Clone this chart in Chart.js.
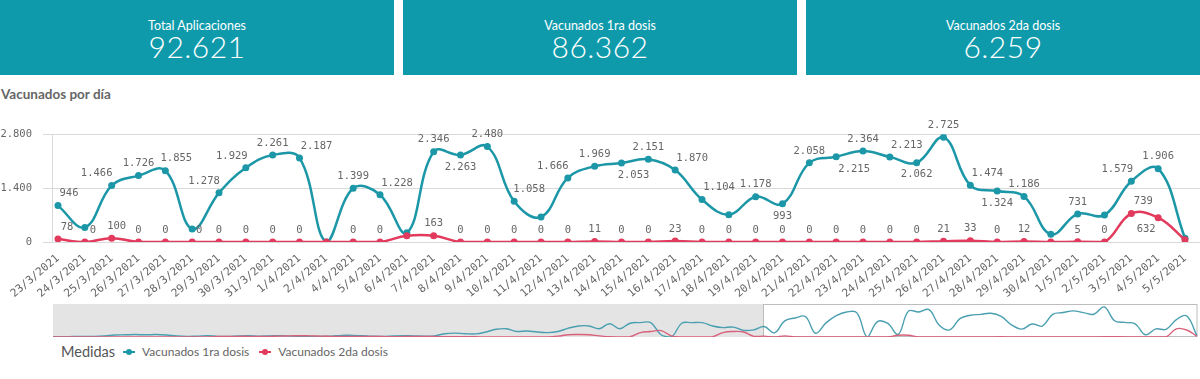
<!DOCTYPE html>
<html>
<head>
<meta charset="utf-8">
<script src="https://cdn.jsdelivr.net/npm/chart.js@4"></script>
<style>
  body { margin: 0; width: 1200px; height: 379px; overflow: hidden; background: #fff; font-family: Lato, "Noto Sans", sans-serif; position: relative; }
  .kpi { position: absolute; top: 0; height: 75px; background: #0e9aab; color: #fff; text-align: center; }
  .kpi .lbl { position: absolute; left: 0; right: 0; top: 18px; font-size: 12.5px; }
  .kpi .val { position: absolute; left: 0; right: 0; top: 28px; font-size: 30px; font-weight: 300; letter-spacing: 0.5px; }
  #title { position: absolute; left: 1px; top: 86px; font-size: 13.5px; font-weight: bold; color: #666; }
  #main { position: absolute; left: 0; top: 110px; }
  #nav { position: absolute; left: 0; top: 300px; }
  #legend { position: absolute; left: 61px; top: 343px; color: #666; font-size: 12px; display: flex; align-items: center; }
  #legend .head { font-size: 14.5px; margin-right: 8px; color: #555; }
  #legend .sym { width: 12px; height: 2px; position: relative; margin-right: 7px; }
  #legend .sym::after { content: ""; position: absolute; left: 3px; top: -2px; width: 6px; height: 6px; border-radius: 3px; background: inherit; }
  #legend .item { margin-right: 10px; }
</style>
</head>
<body>
<div id="kpis"></div>
<div id="title">Vacunados por día</div>
<canvas id="main" width="1200" height="190"></canvas>
<canvas id="nav" width="1200" height="42"></canvas>
<div id="legend"></div>
<script>
const kpiLabels = ["Total Aplicaciones", "Vacunados 1ra dosis", "Vacunados 2da dosis"];
const kpiValues = [92621, 86362, 6259];

const categories = [
  "23/3/2021", "24/3/2021", "25/3/2021", "26/3/2021", "27/3/2021", "28/3/2021", "29/3/2021",
  "30/3/2021", "31/3/2021", "1/4/2021", "2/4/2021", "4/4/2021", "5/4/2021", "6/4/2021",
  "7/4/2021", "8/4/2021", "9/4/2021", "10/4/2021", "11/4/2021", "12/4/2021", "13/4/2021",
  "14/4/2021", "15/4/2021", "16/4/2021", "17/4/2021", "18/4/2021", "19/4/2021", "20/4/2021",
  "21/4/2021", "22/4/2021", "23/4/2021", "24/4/2021", "25/4/2021", "26/4/2021", "27/4/2021",
  "28/4/2021", "29/4/2021", "30/4/2021", "1/5/2021", "2/5/2021", "3/5/2021", "4/5/2021", "5/5/2021"
];
const dosis1 = [
  946, 380, 1466, 1726, 1855, 340, 1278, 1929, 2261, 2187, 0, 1399, 1228, 240,
  2346, 2263, 2480, 1058, 650, 1666, 1969, 2053, 2151, 1870, 1104, 710, 1178, 993,
  2058, 2215, 2364, 2213, 2062, 2725, 1474, 1324, 1186, 200, 731, 700, 1579, 1906, 100
];
const dosis2 = [
  78, 0, 100, 0, 0, 0, 0, 0, 0, 0, 0, 0, 0, 160,
  163, 0, 0, 0, 0, 0, 11, 0, 0, 23, 0, 0, 0, 0,
  0, 0, 0, 0, 0, 21, 33, 0, 12, 0, 5, 0, 739, 632, 60
];
const yTicks = [0, 1400, 2800];

// earlier days, only shown in the small navigator strip
const historyDosis1 = [
  20, 30, 40, 50, 60, 100, 180, 200, 220, 200, 220, 180, 100, 60, 80, 120, 60, 50, 100, 120,
  80, 100, 120, 80, 60, 50, 60, 80, 150, 150, 120, 80, 60, 100, 120, 100, 80, 100, 300, 350,
  300, 280, 450, 700, 750, 500, 550, 450, 400, 500, 800, 1000, 1000, 750, 1200, 750, 1250, 1300, 1300, 200,
  0, 1250, 1300, 1300, 1000, 850, 900, 600, 650
];
const historyDosis2 = [
  0, 0, 0, 0, 0, 0, 0, 0, 0, 0, 0, 0, 0, 0, 0, 0, 40, 50, 60, 60,
  50, 60, 80, 100, 120, 100, 80, 60, 50, 40, 60, 50, 40, 30, 40, 60, 50, 40, 30, 20,
  20, 20, 10, 10, 10, 10, 10, 10, 10, 80, 200, 220, 200, 100, 20, 10, 20, 400, 500, 580,
  100, 0, 0, 0, 20, 400, 500, 450, 60
];

// how Qlik placed the value labels: left out, under the point, nudged sideways
const hidden1 = ["24/3/2021", "28/3/2021", "2/4/2021", "6/4/2021", "11/4/2021", "18/4/2021", "30/4/2021", "2/5/2021", "5/5/2021"];
const hidden2 = ["2/4/2021", "6/4/2021", "30/4/2021", "5/5/2021"];
const below1 = ["8/4/2021", "14/4/2021", "20/4/2021", "22/4/2021", "25/4/2021", "28/4/2021"];
const below2 = ["4/5/2021"];
const shift1 = {
  "23/3/2021": 11, "25/3/2021": -15, "27/3/2021": 11, "29/3/2021": -15, "30/3/2021": -14,
  "1/4/2021": 17, "5/4/2021": 17, "10/4/2021": 15, "12/4/2021": -15, "14/4/2021": 12,
  "16/4/2021": 17, "17/4/2021": 17, "22/4/2021": 18, "24/4/2021": 17, "27/4/2021": 17, "3/5/2021": -14
};
const shift2 = { "23/3/2021": 9, "24/3/2021": 8, "25/3/2021": 5, "28/3/2021": 7, "3/5/2021": 12, "4/5/2021": -12 };

const blue = "#1c97a7";
const red = "#e23a5d";
const mono = "'DejaVu Sans Mono', monospace";

const fmt = (v) => String(v).replace(/\B(?=(\d{3})+(?!\d))/g, ".");

// kpi boxes
const boxes = [[0, 394], [403, 394], [806, 394]];
document.getElementById("kpis").innerHTML = kpiLabels.map((l, i) =>
  `<div class="kpi" style="left:${boxes[i][0]}px;width:${boxes[i][1]}px"><div class="lbl">${l}</div><div class="val">${fmt(kpiValues[i])}</div></div>`
).join("");

document.getElementById("legend").innerHTML =
  `<span class="head">Medidas</span>` +
  `<span class="sym" style="background:${blue}"></span><span class="item">Vacunados 1ra dosis</span>` +
  `<span class="sym" style="background:${red}"></span><span class="item">Vacunados 2da dosis</span>`;

const gridPlugin = {
  id: "grid",
  beforeDatasetsDraw(chart) {
    const { ctx, chartArea, scales } = chart;
    ctx.save();
    ctx.strokeStyle = "#d9d9d9";
    ctx.lineWidth = 1;
    yTicks.forEach((t) => {
      const y = Math.round(scales.y.getPixelForValue(t)) + 0.5;
      ctx.beginPath();
      ctx.moveTo(43, y);
      ctx.lineTo(1200, y);
      ctx.stroke();
    });
    ctx.beginPath();
    ctx.moveTo(52.5, chartArea.top);
    ctx.lineTo(52.5, chartArea.bottom);
    ctx.stroke();
    ctx.restore();
  },
};

const labelPlugin = {
  id: "valueLabels",
  afterDatasetsDraw(chart) {
    const { ctx } = chart;
    ctx.save();
    ctx.font = `10.5px ${mono}`;
    ctx.fillStyle = "#666";
    ctx.textAlign = "center";
    ctx.textBaseline = "middle";
    chart.data.datasets.forEach((ds, di) => {
      const meta = chart.getDatasetMeta(di);
      meta.data.forEach((pt, i) => {
        const cat = categories[i];
        if (ds.hiddenLabels.includes(cat)) return;
        const dy = ds.belowLabels.includes(cat) ? 12 : -12;
        const dx = ds.labelShift[cat] || 0;
        ctx.fillText(fmt(ds.data[i]), pt.x + dx, pt.y + dy);
      });
    });
    ctx.restore();
  },
};

new Chart(document.getElementById("main"), {
  type: "line",
  data: {
    labels: categories,
    datasets: [
      {
        label: "Vacunados 2da dosis",
        data: dosis2,
        borderColor: red,
        backgroundColor: red,
        order: 0,
        hiddenLabels: hidden2,
        belowLabels: below2,
        labelShift: shift2,
      },
      {
        label: "Vacunados 1ra dosis",
        data: dosis1,
        borderColor: blue,
        backgroundColor: blue,
        order: 1,
        hiddenLabels: hidden1,
        belowLabels: below1,
        labelShift: shift1,
      },
    ],
  },
  options: {
    responsive: false,
    animation: false,
    layout: { padding: { top: 22, right: 15, left: 0, bottom: 0 } },
    elements: {
      line: { borderWidth: 2.5, tension: 0.4 },
      point: { radius: 3.5, borderWidth: 0 },
    },
    plugins: { legend: { display: false }, tooltip: { enabled: false } },
    scales: {
      x: {
        grid: { display: false },
        border: { display: false },
        ticks: {
          autoSkip: false,
          minRotation: 40,
          maxRotation: 40,
          padding: 2,
          color: "#666",
          font: { family: mono, size: 11 },
        },
        afterFit: (s) => { s.height = 58; },
      },
      y: {
        min: 0,
        max: 2800,
        grid: { display: false },
        border: { display: false },
        afterBuildTicks: (s) => { s.ticks = yTicks.map((v) => ({ value: v })); },
        ticks: {
          padding: 18,
          color: "#666",
          font: { family: mono, size: 10.5 },
          callback: (v) => fmt(v),
        },
        afterFit: (s) => { s.width = 58; },
      },
    },
  },
  plugins: [gridPlugin, labelPlugin],
});

// navigator strip under the chart
const navLabels = historyDosis1.map((_, i) => "h" + i).concat(categories);
const navPlugin = {
  id: "nav",
  beforeDatasetsDraw(chart) {
    const { ctx, chartArea, scales } = chart;
    const sel = Math.round(scales.x.getPixelForValue(historyDosis1.length)) - 1;
    ctx.save();
    ctx.fillStyle = "#e4e4e4";
    ctx.fillRect(chartArea.left, 4, sel - chartArea.left, 33);
    ctx.strokeStyle = "#bdbdbd";
    ctx.lineWidth = 1;
    ctx.strokeRect(sel + 0.5, 4.5, chartArea.right - sel - 0.5, 32);
    ctx.restore();
  },
};

new Chart(document.getElementById("nav"), {
  type: "line",
  data: {
    labels: navLabels,
    datasets: [
      { data: historyDosis2.concat(dosis2), borderColor: "#d9607a", order: 0 },
      { data: historyDosis1.concat(dosis1), borderColor: "#4a9fb0", order: 1 },
    ],
  },
  options: {
    responsive: false,
    animation: false,
    layout: { padding: { top: 5, right: 3, left: 53, bottom: 5 } },
    elements: {
      line: { borderWidth: 1.4, tension: 0.4 },
      point: { radius: 0 },
    },
    plugins: { legend: { display: false }, tooltip: { enabled: false } },
    scales: {
      x: { display: false },
      y: { display: false, min: 0, max: 2900 },
    },
  },
  plugins: [navPlugin],
});
</script>
</body>
</html>
